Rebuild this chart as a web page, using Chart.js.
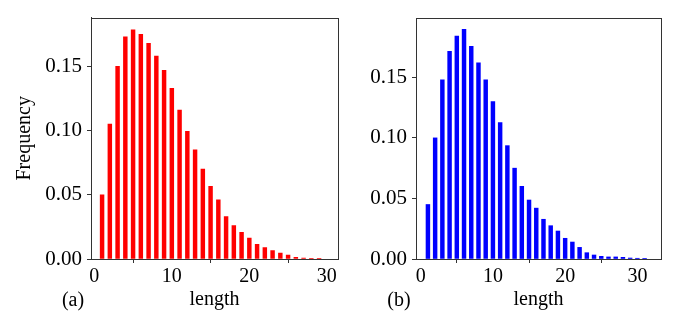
<!DOCTYPE html>
<html>
<head>
<meta charset="utf-8">
<script src="https://cdn.jsdelivr.net/npm/chart.js@4.4.0/dist/chart.umd.min.js"></script>
<style>
  body { margin: 0; background: #fff; }
  #wrap { position: relative; width: 677px; height: 324px; }
  canvas { position: absolute; top: 0; }
</style>
</head>
<body>
<div id="wrap">
  <canvas id="chartA" width="340" height="324" style="left:0px"></canvas>
  <canvas id="chartB" width="337" height="324" style="left:340px"></canvas>
</div>
<script>
// lengths on the x axis
var lengths = [1, 2, 3, 4, 5, 6, 7, 8, 9, 10, 11, 12, 13, 14, 15, 16, 17, 18, 19, 20,
               21, 22, 23, 24, 25, 26, 27, 28, 29, 30, 31];

// (a) red histogram
var redFreq = [0.050, 0.105, 0.150, 0.173, 0.1785, 0.175, 0.168, 0.158, 0.147, 0.133,
               0.116, 0.0995, 0.085, 0.070, 0.0565, 0.046, 0.033, 0.026, 0.0207, 0.0163,
               0.0114, 0.0088, 0.0065, 0.0047, 0.0031, 0.0013, 0.0008, 0.0005, 0.0002];

// (b) blue histogram
var blueFreq = [0.045, 0.100, 0.148, 0.1715, 0.184, 0.1896, 0.1756, 0.162, 0.148, 0.130,
                0.1126, 0.0936, 0.075, 0.060, 0.0487, 0.042, 0.0328, 0.0275, 0.0231, 0.0171,
                0.014, 0.0096, 0.0052, 0.0033, 0.0022, 0.0017, 0.0017, 0.0014, 0.0008, 0.0006, 0.0003];

var yTicks = [0, 0.05, 0.10, 0.15];
var xTicks = [0, 10, 20, 30];

var serif = "'Liberation Serif', 'Times New Roman', serif";
var axisColor = '#333333';

// draw top/right spines and the panel letter
var framePlugin = {
    id: 'frame',
    afterDraw: function (chart, args, opts) {
        var ctx = chart.ctx;
        var a = chart.chartArea;
        ctx.save();
        ctx.strokeStyle = axisColor;
        ctx.lineWidth = 1;
        ctx.strokeRect(Math.round(a.left) + 0.5, Math.round(a.top) + 0.5,
                       Math.round(a.right - a.left), Math.round(a.bottom - a.top));
        ctx.fillStyle = '#000';
        ctx.font = '20px ' + serif;
        ctx.textAlign = 'center';
        ctx.textBaseline = 'middle';
        ctx.fillText(opts.letter, opts.lx, opts.ly);
        ctx.restore();
    }
};

function makeChart(id, freq, color, cfg) {
    var points = [];
    for (var i = 0; i < freq.length; i++) {
        points.push({ x: lengths[i], y: freq[i] });
    }
    return new Chart(document.getElementById(id), {
        type: 'bar',
        data: {
            datasets: [{
                data: points,
                backgroundColor: color,
                borderWidth: 0,
                barThickness: 3.8
            }]
        },
        options: {
            responsive: false,
            devicePixelRatio: 1,
            animation: false,
            layout: { padding: { left: 0, top: cfg.top, right: cfg.right, bottom: 0 } },
            plugins: {
                legend: { display: false },
                tooltip: { enabled: false },
                frame: { letter: cfg.letter, lx: cfg.lx, ly: 301 }
            },
            scales: {
                x: {
                    type: 'linear',
                    min: cfg.xmin,
                    max: cfg.xmax,
                    offset: false,
                    afterBuildTicks: function (s) { s.ticks = xTicks.map(function (v) { return { value: v }; }); },
                    afterFit: function (s) { s.height = 324 - 259; },
                    ticks: { color: '#000', font: { family: serif, size: 20 }, padding: 2, maxRotation: 0 },
                    grid: { drawOnChartArea: false, drawTicks: true, tickLength: 4, color: axisColor },
                    border: { display: true, color: axisColor },
                    title: { display: true, text: 'length', color: '#000',
                             font: { family: serif, size: 20 }, padding: { top: 0, bottom: 12 } }
                },
                y: {
                    min: 0,
                    max: cfg.ymax,
                    afterBuildTicks: function (s) { s.ticks = yTicks.map(function (v) { return { value: v }; }); },
                    afterFit: function (s) { s.width = cfg.yw; },
                    ticks: {
                        color: '#000', font: { family: serif, size: 21 }, padding: 5,
                        callback: function (v) { return Number(v).toFixed(2); }
                    },
                    grid: { drawOnChartArea: false, drawTicks: true, tickLength: 4, color: axisColor },
                    border: { display: true, color: axisColor },
                    title: { display: cfg.ytitle, text: 'Frequency', color: '#000',
                             font: { family: serif, size: 20 }, padding: { top: 13, bottom: 0 } }
                }
            }
        },
        plugins: [framePlugin]
    });
}

makeChart('chartA', redFreq, '#ff0000', {
    top: 17, right: 2, yw: 91, xmin: -0.43, xmax: 31.44, ymax: 0.188,
    ytitle: true, letter: '(a)', lx: 73
});
makeChart('chartB', blueFreq, '#0000ff', {
    top: 18, right: 16, yw: 76, xmin: -0.65, xmax: 33.27, ymax: 0.199,
    ytitle: false, letter: '(b)', lx: 59
});
</script>
</body>
</html>
